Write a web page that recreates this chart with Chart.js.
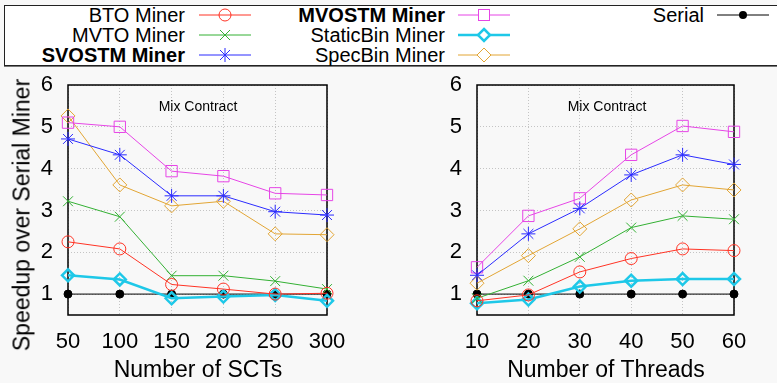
<!DOCTYPE html>
<html>
<head>
<meta charset="utf-8">
<script src="https://cdn.jsdelivr.net/npm/chart.js@4.4.1/dist/chart.umd.min.js"></script>
<style>
  body { margin: 0; background: #f8f8f8; font-family: "Liberation Sans", Arial, sans-serif; }
  #wrap { position: relative; width: 777px; height: 383px; overflow: hidden; }
  #legendBox { position: absolute; left: 4px; top: 5px; width: 790px; height: 59px; background: #fff;
    border: 1px solid #222; box-shadow: 0 1px 0 #777; }
  .lg { position: absolute; font-size: 20px; line-height: 24px; color: #000; white-space: nowrap; text-align: right; }
  .lg.b { font-weight: bold; }
  .txt { position: absolute; color: #000; white-space: nowrap; transform: translate(-50%, -50%); }
  canvas { position: absolute; }
</style>
</head>
<body>
<div id="wrap">
  <div id="legendBox"></div>
  <svg id="legendMarks" width="777" height="70" style="position:absolute;left:0;top:0"></svg>
  <canvas id="sctChart" width="388" height="313" style="left:0;top:70px"></canvas>
  <canvas id="thrChart" width="389" height="313" style="left:388px;top:70px"></canvas>
  <div class="txt" style="left:22px;top:215px;font-size:23px;transform:translate(-50%,-50%) rotate(-90deg)">Speedup over Serial Miner</div>
  <div class="txt" style="left:198px;top:369px;font-size:23px">Number of SCTs</div>
  <div class="txt" style="left:606px;top:369px;font-size:23px">Number of Threads</div>
  <div class="txt" style="left:198px;top:106px;font-size:14px">Mix Contract</div>
  <div class="txt" style="left:607px;top:106px;font-size:14px">Mix Contract</div>
</div>
<script>
// categories / ticks
const sctCats = [50, 100, 150, 200, 250, 300];
const threadCats = [10, 20, 30, 40, 50, 60];
const yTicks = [1, 2, 3, 4, 5, 6];

// speedup vs number of SCTs
const btoSct = [2.25, 2.08, 1.23, 1.12, 1.0, 1.02];
const mvtoSct = [3.22, 2.85, 1.44, 1.44, 1.31, 1.12];
const svostmSct = [4.71, 4.33, 3.35, 3.35, 2.97, 2.89];
const mvostmSct = [5.10, 5.0, 3.94, 3.82, 3.41, 3.37];
const staticSct = [1.45, 1.35, 0.90, 0.94, 0.98, 0.84];
const specSct = [5.26, 3.61, 3.11, 3.22, 2.44, 2.42];
const serialSct = [1, 1, 1, 1, 1, 1];

// speedup vs number of threads
const btoThr = [0.84, 0.98, 1.53, 1.85, 2.08, 2.04];
const mvtoThr = [0.90, 1.32, 1.89, 2.59, 2.87, 2.79];
const svostmThr = [1.45, 2.44, 3.05, 3.85, 4.33, 4.10];
const mvostmThr = [1.64, 2.87, 3.29, 4.33, 5.02, 4.88];
const staticThr = [0.78, 0.87, 1.18, 1.32, 1.36, 1.36];
const specThr = [1.26, 1.92, 2.56, 3.25, 3.61, 3.49];
const serialThr = [1, 1, 1, 1, 1, 1];

const names = ["BTO Miner", "MVTO Miner", "SVOSTM Miner", "MVOSTM Miner", "StaticBin Miner", "SpecBin Miner", "Serial"];

// look of each series (same order as names)
const looks = [
  { color: "#ff3324", point: "circle", r: 6, lw: 1, fill: "transparent" },
  { color: "#33b033", point: "crossRot", r: 7, lw: 1, fill: "transparent" },
  { color: "#2b2bff", point: "star", r: 7, lw: 1, fill: "transparent" },
  { color: "#e645e6", point: "rect", r: 8, lw: 1, fill: "transparent" },
  { color: "#1ec8e8", point: "rectRot", r: 6, lw: 2.5, fill: "transparent" },
  { color: "#e2a534", point: "rectRot", r: 7, lw: 1, fill: "transparent" },
  { color: "#000000", point: "circle", r: 4, lw: 1, fill: "#000000" },
];

function buildSets(xs, series) {
  return series.map((vals, i) => ({
    label: names[i],
    data: vals.map((v, k) => ({ x: xs[k], y: v })),
    borderColor: looks[i].color,
    borderWidth: looks[i].lw,
    pointStyle: looks[i].point,
    pointRadius: looks[i].r,
    pointBorderColor: looks[i].color,
    pointBackgroundColor: looks[i].fill,
    pointBorderWidth: looks[i].lw,
    tension: 0,
    clip: false,
  }));
}

// black box round the plot area
const frame = {
  id: "frame",
  beforeDatasetsDraw(chart) {
    const a = chart.chartArea, c = chart.ctx;
    c.save();
    c.strokeStyle = "#000";
    c.lineWidth = 1.5;
    c.strokeRect(a.left, a.top, a.right - a.left, a.bottom - a.top);
    c.restore();
  },
};

function makeOpts(xs, yWidth, padRight) {
  return {
    responsive: false,
    animation: false,
    devicePixelRatio: 1,
    layout: { padding: { top: 15, right: padRight, bottom: 0, left: 0 } },
    plugins: { legend: { display: false }, tooltip: { enabled: false } },
    scales: {
      x: {
        type: "linear",
        min: xs[0],
        max: xs[xs.length - 1],
        afterBuildTicks: (s) => { s.ticks = xs.map((v) => ({ value: v })); },
        afterFit: (s) => { s.height = 68; },
        ticks: { color: "#000", padding: 14, font: { family: "Liberation Sans", size: 22 } },
        grid: { color: "#c4c4c4", lineWidth: 1, drawTicks: false },
        border: { display: false, dash: [1, 2] },
      },
      y: {
        min: 0.5,
        max: 6,
        afterBuildTicks: (s) => { s.ticks = yTicks.map((v) => ({ value: v })); },
        afterFit: (s) => { s.width = yWidth; s.paddingTop = 0; s.paddingBottom = 0; },
        ticks: { color: "#000", padding: 15, font: { family: "Liberation Sans", size: 22 } },
        grid: { color: "#c4c4c4", lineWidth: 1, drawTicks: false },
        border: { display: false, dash: [1, 2] },
      },
    },
  };
}

new Chart(document.getElementById("sctChart"), {
  type: "line",
  data: { datasets: buildSets(sctCats, [btoSct, mvtoSct, svostmSct, mvostmSct, staticSct, specSct, serialSct]) },
  options: makeOpts(sctCats, 68, 61),
  plugins: [frame],
});

new Chart(document.getElementById("thrChart"), {
  type: "line",
  data: { datasets: buildSets(threadCats, [btoThr, mvtoThr, svostmThr, mvostmThr, staticThr, specThr, serialThr]) },
  options: makeOpts(threadCats, 89, 43),
  plugins: [frame],
});

// legend, gnuplot style: text then line sample
const legendPos = [
  [185, 199, 15], [185, 199, 35], [185, 199, 55],
  [445, 458, 15], [445, 458, 35], [445, 458, 55],
  [704, 717, 15],
];
const boldNames = ["SVOSTM Miner", "MVOSTM Miner"];

function marker(lk, x, y) {
  const c = lk.color, w = lk.lw;
  switch (names[looks.indexOf(lk)]) {
    case "BTO Miner":
      return `<circle cx="${x}" cy="${y}" r="6" fill="none" stroke="${c}" stroke-width="${w}"/>`;
    case "MVTO Miner":
      return `<path d="M${x - 5} ${y - 5}L${x + 5} ${y + 5}M${x - 5} ${y + 5}L${x + 5} ${y - 5}" stroke="${c}" stroke-width="${w}"/>`;
    case "SVOSTM Miner":
      return `<path d="M${x - 5} ${y - 5}L${x + 5} ${y + 5}M${x - 5} ${y + 5}L${x + 5} ${y - 5}M${x} ${y - 7}L${x} ${y + 7}" stroke="${c}" stroke-width="${w}"/>`;
    case "MVOSTM Miner":
      return `<rect x="${x - 5.5}" y="${y - 5.5}" width="11" height="11" fill="#fff" stroke="${c}" stroke-width="${w}"/>`;
    case "StaticBin Miner":
      return `<path d="M${x} ${y - 6}L${x + 6} ${y}L${x} ${y + 6}L${x - 6} ${y}Z" fill="#fff" stroke="${c}" stroke-width="${w}"/>`;
    case "SpecBin Miner":
      return `<path d="M${x} ${y - 7}L${x + 7} ${y}L${x} ${y + 7}L${x - 7} ${y}Z" fill="#fff" stroke="${c}" stroke-width="${w}"/>`;
    default:
      return `<circle cx="${x}" cy="${y}" r="4" fill="${c}"/>`;
  }
}

let svg = "";
const wrap = document.getElementById("wrap");
names.forEach((n, i) => {
  const [tx, lx, y] = legendPos[i];
  const lk = looks[i];
  const d = document.createElement("div");
  d.className = "lg" + (boldNames.includes(n) ? " b" : "");
  d.textContent = n;
  d.style.right = 777 - tx + "px";
  d.style.top = y - 12 + "px";
  wrap.appendChild(d);
  svg += `<line x1="${lx}" y1="${y}" x2="${lx + 52}" y2="${y}" stroke="${lk.color}" stroke-width="${lk.lw}"/>`;
  svg += marker(lk, lx + 26, y);
});
document.getElementById("legendMarks").innerHTML = svg;
</script>
</body>
</html>
